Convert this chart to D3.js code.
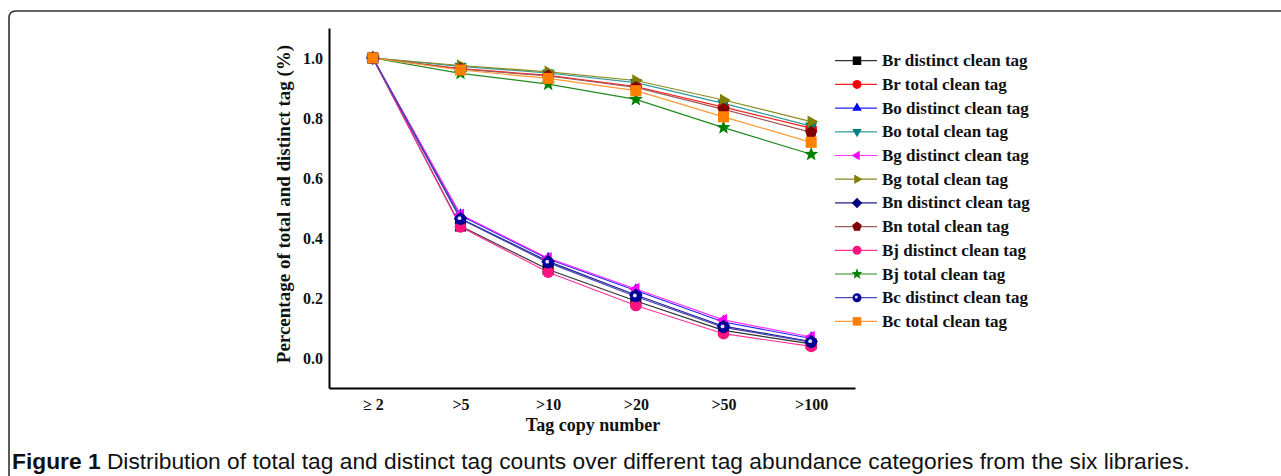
<!DOCTYPE html>
<html><head><meta charset="utf-8">
<script src="https://cdn.jsdelivr.net/npm/d3@7"></script>
<style>body{margin:0;background:#fff}svg{display:block}</style>
</head><body>
<script>
const categories = ["\u2265 2", ">5", ">10", ">20", ">50", ">100"];
const seriesNames = ["Br distinct clean tag","Br total clean tag","Bo distinct clean tag","Bo total clean tag","Bg distinct clean tag","Bg total clean tag","Bn distinct clean tag","Bn total clean tag","Bj distinct clean tag","Bj total clean tag","Bc distinct clean tag","Bc total clean tag"];
const brDistinct = [1, 0.44, 0.295, 0.19, 0.092, 0.047];
const brTotal    = [1, 0.965, 0.942, 0.905, 0.836, 0.766];
const boDistinct = [1, 0.475, 0.33, 0.225, 0.12, 0.065];
const boTotal    = [1, 0.972, 0.95, 0.918, 0.849, 0.773];
const bgDistinct = [1, 0.478, 0.333, 0.23, 0.127, 0.07];
const bgTotal    = [1, 0.975, 0.954, 0.925, 0.86, 0.788];
const bnDistinct = [1, 0.465, 0.322, 0.21, 0.106, 0.055];
const bnTotal    = [1, 0.963, 0.94, 0.902, 0.829, 0.752];
const bjDistinct = [1, 0.437, 0.286, 0.175, 0.081, 0.039];
const bjTotal    = [1, 0.949, 0.913, 0.862, 0.768, 0.679];
const bcDistinct = [1, 0.463, 0.318, 0.205, 0.102, 0.053];
const bcTotal    = [1, 0.96, 0.932, 0.891, 0.804, 0.719];
const yTicks = [0.0, 0.2, 0.4, 0.6, 0.8, 1.0];

const seriesValues = [brDistinct, brTotal, boDistinct, boTotal, bgDistinct, bgTotal, bnDistinct, bnTotal, bjDistinct, bjTotal, bcDistinct, bcTotal];
const lineColors = ["#333333","#ff2020","#2020ff","#339999","#ff33ff","#8a8a20","#202090","#a05a5a","#ff3399","#208a20","#4848b0","#ff9933"];
const markColors = ["#000000","#ff0000","#0000ff","#008080","#ff00ff","#808000","#000080","#800000","#ff1480","#008000","#000099","#ff8000"];
const shapes = ["square","circle","triangle","down","left","right","diamond","pentagon","circle","star","halfcircle","square"];

const W = 1281, H = 476;
const svg = d3.select("body").append("svg").attr("width", W).attr("height", H);

// frame
svg.append("path")
  .attr("d", "M9,476 L9,18 Q9,11 16,11 L1281,11")
  .attr("fill", "none").attr("stroke", "#333").attr("stroke-width", 1.6);

const x = d3.scalePoint().domain(categories).range([329, 855]).padding(0.5);
const y = d3.scaleLinear().domain([-0.1, 1.1]).range([388, 28]);

const serif = "'Liberation Serif','Times New Roman',serif";

// axes
const yAxis = d3.axisLeft(y).tickValues(yTicks).tickFormat(d3.format(".1f")).tickSize(0).tickPadding(6);
const gy = svg.append("g").attr("transform", "translate(329,0)").call(yAxis);
gy.select(".domain").attr("stroke", "#000").attr("stroke-width", 2);
gy.selectAll("text").attr("font-family", serif).attr("font-weight", "bold").attr("font-size", 16).attr("fill", "#111");

const xAxis = d3.axisBottom(x).tickSize(0).tickPadding(11);
const gx = svg.append("g").attr("transform", "translate(0,388)").call(xAxis);
gx.select(".domain").attr("stroke", "#000").attr("stroke-width", 2);
gx.selectAll("text").attr("font-family", serif).attr("font-weight", "bold").attr("font-size", 16).attr("fill", "#111");

svg.append("text").attr("x", 593).attr("y", 431).attr("text-anchor", "middle")
  .attr("font-family", serif).attr("font-weight", "bold").attr("font-size", 18).attr("fill", "#111")
  .text("Tag copy number");
svg.append("text").attr("transform", "translate(290,204) rotate(-90)").attr("text-anchor", "middle")
  .attr("font-family", serif).attr("font-weight", "bold").attr("font-size", 19).attr("fill", "#111")
  .text("Percentage of total and distinct tag (%)");

function starPath(r) {
  let p = [];
  for (let i = 0; i < 10; i++) {
    const a = -Math.PI/2 + i*Math.PI/5;
    const rr = i % 2 === 0 ? r : r*0.42;
    p.push([rr*Math.cos(a), rr*Math.sin(a)]);
  }
  return "M" + p.map(q => q.join(",")).join("L") + "Z";
}
function polyPath(n, r, rot) {
  let p = [];
  for (let i = 0; i < n; i++) {
    const a = rot + i*2*Math.PI/n;
    p.push([r*Math.cos(a), r*Math.sin(a)]);
  }
  return "M" + p.map(q => q.join(",")).join("L") + "Z";
}
function drawMarker(g, shape, color, s) {
  const r = s/2;
  if (shape === "square") g.append("rect").attr("x", -r*0.85).attr("y", -r*0.85).attr("width", r*1.7).attr("height", r*1.7).attr("fill", color);
  else if (shape === "circle") g.append("circle").attr("r", r*0.9).attr("fill", color);
  else if (shape === "triangle") g.append("path").attr("d", polyPath(3, r*1.1, -Math.PI/2)).attr("fill", color);
  else if (shape === "down") g.append("path").attr("d", polyPath(3, r*1.1, Math.PI/2)).attr("fill", color);
  else if (shape === "left") g.append("path").attr("d", polyPath(3, r*1.1, Math.PI)).attr("fill", color);
  else if (shape === "right") g.append("path").attr("d", polyPath(3, r*1.1, 0)).attr("fill", color);
  else if (shape === "diamond") g.append("path").attr("d", polyPath(4, r*1.05, 0)).attr("fill", color);
  else if (shape === "pentagon") g.append("path").attr("d", polyPath(5, r*1.0, -Math.PI/2)).attr("fill", color);
  else if (shape === "star") g.append("path").attr("d", starPath(r*1.15)).attr("fill", color);
  else if (shape === "halfcircle") {
    g.append("circle").attr("r", r*0.9).attr("fill", color);
    g.append("circle").attr("cx", -r*0.15).attr("cy", -r*0.15).attr("r", r*0.3).attr("fill", "#ddddff");
  }
}

const line = d3.line().x((d, i) => x(categories[i])).y(d => y(d));
const plot = svg.append("g");
seriesValues.forEach((vals, k) => {
  plot.append("path").datum(vals).attr("d", line)
    .attr("fill", "none").attr("stroke", lineColors[k]).attr("stroke-width", 1.2);
});
seriesValues.forEach((vals, k) => {
  vals.forEach((v, i) => {
    const g = plot.append("g").attr("transform", `translate(${x(categories[i])},${y(v)})`);
    drawMarker(g, shapes[k], markColors[k], 13);
  });
});

// legend
const leg = svg.append("g");
seriesNames.forEach((name, k) => {
  const yy = 60.7 + k*23.7;
  leg.append("line").attr("x1", 835).attr("x2", 877).attr("y1", yy).attr("y2", yy)
    .attr("stroke", lineColors[k]).attr("stroke-width", 1.2);
  const g = leg.append("g").attr("transform", `translate(857,${yy})`);
  drawMarker(g, shapes[k], markColors[k], 10);
  leg.append("text").attr("x", 882).attr("y", yy + 5.5)
    .attr("font-family", serif).attr("font-weight", "bold").attr("font-size", 17).attr("fill", "#111")
    .text(name);
});

// caption
const cap = svg.append("text").attr("x", 12).attr("y", 469)
  .attr("font-family", "'Liberation Sans',Arial,sans-serif").attr("font-size", 20).attr("fill", "#111");
cap.append("tspan").attr("font-weight", "bold").text("Figure 1");
cap.append("tspan").text(" Distribution of total tag and distinct tag counts over different tag abundance categories from the six libraries.");
const capLen = cap.node().getComputedTextLength();
if (capLen > 0) cap.attr("font-size", 20 * 1178 / capLen);
</script>
</body></html>
